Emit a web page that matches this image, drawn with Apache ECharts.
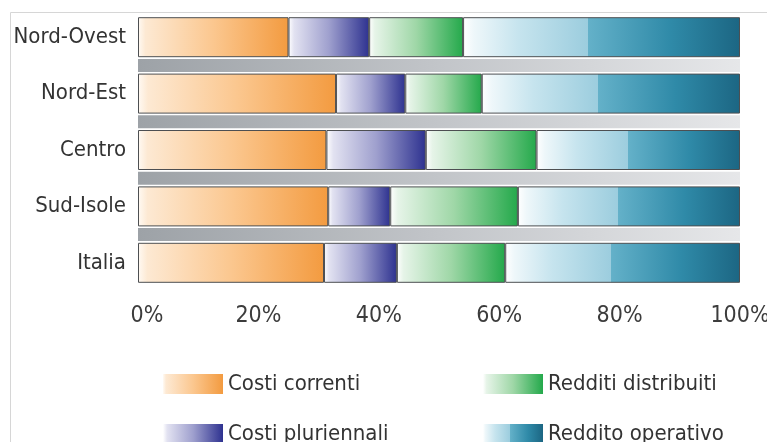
<!DOCTYPE html>
<html>
<head>
<meta charset="utf-8">
<script src="https://cdn.jsdelivr.net/npm/echarts@6/dist/echarts.min.js"></script>
<style>
  html, body { margin: 0; padding: 0; background: #ffffff; }
  #chart { width: 767px; height: 442px; }
</style>
</head>
<body>
<div id="chart"></div>
<script>
// Composizione percentuale per ripartizione territoriale
const categories = ['Nord-Ovest', 'Nord-Est', 'Centro', 'Sud-Isole', 'Italia'];
const costiCorrenti      = [25.0, 32.9, 31.3, 31.6, 30.9];
const costiPluriennali   = [13.4, 11.5, 16.5, 10.3, 12.1];
const redditiDistribuiti = [15.6, 12.7, 18.4, 21.2, 18.0];
const redditoOperativo   = [46.0, 42.9, 33.8, 36.9, 39.0];
const tickValues = [0, 20, 40, 60, 80, 100];
const seriesNames = ['Costi correnti', 'Costi pluriennali', 'Redditi distribuiti', 'Reddito operativo'];

const FONT = '"DejaVu Sans Condensed", "DejaVu Sans", sans-serif';

// Grey strips sit between two consecutive categories: one per gap.
const gaps = categories.slice(0, -1).map((c, i) => c + '/' + categories[i + 1]);
const strips = gaps.map(() => 100);

const grad = (stops) => new echarts.graphic.LinearGradient(0, 0, 1, 0,
  stops.map(([offset, color]) => ({ offset, color })));

const fills = [
  grad([[0, '#fffaf4'], [0.05, '#fde9d3'], [0.5, '#fbc78f'], [1, '#f39b40']]),
  grad([[0, '#ffffff'], [0.07, '#e2e2f1'], [0.5, '#9fa0ce'], [1, '#2e3290']]),
  grad([[0, '#ffffff'], [0.06, '#e6f4e8'], [0.5, '#9fd7a7'], [1, '#24a94b']]),
  grad([[0, '#ffffff'], [0.04, '#eef7fa'], [0.2, '#c6e4ee'], [0.45, '#9ccdde'],
        [0.45, '#64b1c9'], [0.75, '#2f8aa8'], [1, '#1c6683']])
];

const valueArrays = [costiCorrenti, costiPluriennali, redditiDistribuiti, redditoOperativo];

const barSeries = valueArrays.map((vals, k) => ({
  name: seriesNames[k],
  type: 'bar',
  stack: 'totale',
  xAxisIndex: 0,
  yAxisIndex: 0,
  barWidth: 40,
  data: vals,
  itemStyle: { color: fills[k], borderColor: '#4d4f52', borderWidth: 1 },
  emphasis: { disabled: true },
  z: 3
}));

const legendBase = {
  orient: 'horizontal',
  padding: 0,
  itemWidth: 60,
  itemHeight: 20,
  itemGap: 0,
  icon: 'rect',
  selectedMode: false,
  itemStyle: { borderWidth: 0 },
  textStyle: { fontFamily: FONT, fontSize: 22, color: '#333333' }
};
const legendPos = [[163, 373], [163, 423], [483, 373], [483, 423]];

const option = {
  animation: false,
  backgroundColor: '#ffffff',
  textStyle: { fontFamily: FONT },
  graphic: [{
    type: 'rect',
    shape: { x: 10.5, y: 12.5, width: 800, height: 500 },
    style: { fill: 'none', stroke: '#d6d6d6', lineWidth: 1 },
    silent: true,
    z: 0
  }],
  grid: [
    { left: 138, top: 9, width: 602, height: 282, outerBoundsMode: 'none', containLabel: false },
    { left: 138, top: 37.2, width: 602, height: 225.6, outerBoundsMode: 'none', containLabel: false }
  ],
  xAxis: [{
    type: 'value',
    gridIndex: 0,
    min: 0,
    max: 100,
    interval: 20,
    axisLine: { show: false },
    axisTick: { show: false },
    splitLine: { show: false },
    axisLabel: {
      margin: 14,
      fontFamily: FONT,
      fontSize: 23,
      color: '#3c3c3c',
      hideOverlap: false,
      formatter: (v) => (v === tickValues[0] ? '{first|' + v + '%}' : v + '%'),
      rich: { first: { fontFamily: FONT, fontSize: 23, color: '#3c3c3c', padding: [0, 0, 0, 18] } }
    }
  }, {
    type: 'value',
    gridIndex: 1,
    min: 0,
    max: 100,
    show: false
  }],
  yAxis: [{
    type: 'category',
    gridIndex: 0,
    inverse: true,
    data: categories,
    axisLine: { show: false },
    axisTick: { show: false },
    splitLine: { show: false },
    axisLabel: {
      margin: 12,
      fontFamily: FONT,
      fontSize: 22,
      color: '#333333'
    }
  }, {
    type: 'category',
    gridIndex: 1,
    inverse: true,
    data: gaps,
    show: false
  }],
  legend: seriesNames.map((n, i) => Object.assign({}, legendBase, {
    data: [n],
    left: legendPos[i][0],
    top: legendPos[i][1]
  })),
  series: [{
    name: 'separatore',
    type: 'bar',
    xAxisIndex: 1,
    yAxisIndex: 1,
    barWidth: 13,
    data: strips,
    silent: true,
    itemStyle: {
      color: grad([[0, '#9da2a7'], [0.5, '#c2c5c9'], [1, '#e6e7e9']])
    },
    z: 1
  }].concat(barSeries)
};

const chart = echarts.init(document.getElementById('chart'), null, { renderer: 'canvas' });
chart.setOption(option);
</script>
</body>
</html>
